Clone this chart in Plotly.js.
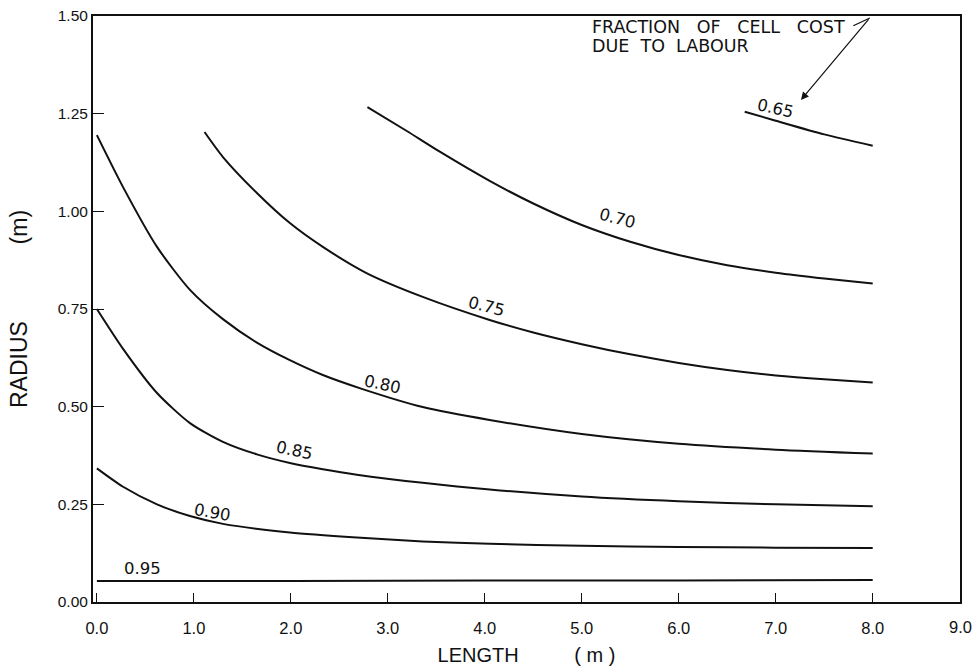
<!DOCTYPE html>
<html>
<head>
<meta charset="utf-8">
<script src="https://cdn.plot.ly/plotly-3.0.1.min.js"></script>
<style>html,body{margin:0;padding:0;background:#fff;}#chart{width:976px;height:666px;}</style>
</head>
<body>
<div id="chart"></div>
<script>
// Contours of fraction of cell cost due to labour: length (m) vs radius (m)
const len95 = [0, 2, 4, 6, 8];
const rad95 = [0.054, 0.054, 0.055, 0.055, 0.056];

const len90 = [0, 0.27, 0.62, 0.96, 1.30, 1.99, 2.68, 3.36, 4.05, 5, 6, 7, 8];
const rad90 = [0.342, 0.295, 0.250, 0.220, 0.200, 0.178, 0.165, 0.155, 0.149, 0.144, 0.141, 0.139, 0.138];

const len85 = [0, 0.27, 0.62, 0.96, 1.30, 1.65, 1.99, 2.33, 2.68, 3.36, 4.05, 5, 6, 7, 8];
const rad85 = [0.75, 0.648, 0.535, 0.458, 0.410, 0.378, 0.356, 0.340, 0.326, 0.305, 0.288, 0.270, 0.258, 0.250, 0.245];

const len80 = [0, 0.27, 0.62, 0.96, 1.30, 1.65, 1.99, 2.33, 2.74, 3.36, 4.05, 5, 6, 7, 8];
const rad80 = [1.195, 1.062, 0.909, 0.799, 0.724, 0.664, 0.619, 0.581, 0.545, 0.499, 0.466, 0.430, 0.405, 0.390, 0.380];

const len75 = [1.11, 1.30, 1.65, 1.99, 2.33, 2.78, 3.36, 4.05, 4.5, 5, 5.5, 6, 6.5, 7, 7.5, 8];
const rad75 = [1.203, 1.139, 1.047, 0.970, 0.909, 0.842, 0.781, 0.722, 0.690, 0.660, 0.634, 0.612, 0.594, 0.580, 0.570, 0.562];

const len70 = [2.79, 3.20, 3.54, 4.05, 4.5, 5, 5.5, 6, 6.5, 7, 7.5, 8];
const rad70 = [1.267, 1.205, 1.152, 1.078, 1.020, 0.965, 0.922, 0.888, 0.862, 0.843, 0.828, 0.815];

const len65 = [6.68, 7, 7.5, 8];
const rad65 = [1.255, 1.232, 1.197, 1.168];

// contour labels
const labelText = ['0.95', '0.90', '0.85', '0.80', '0.75', '0.70', '0.65'];
const labelLen  = [0.47, 1.19, 2.04, 2.95, 4.02, 5.37, 7.0];
const labelRad  = [0.085, 0.230, 0.387, 0.556, 0.757, 0.982, 1.264];
const labelAng  = [0, 10, 12, 12, 14, 15, 13];

const xTicks = [0, 1, 2, 3, 4, 5, 6, 7, 8];
const xTickText = ['0.0', '1.0', '2.0', '3.0', '4.0', '5.0', '6.0', '7.0', '8.0'];
const yTicks = [0, 0.25, 0.5, 0.75, 1.0, 1.25, 1.5];
const yTickText = ['0.00', '0.25', '0.50', '0.75', '1.00', '1.25', '1.50'];

const series = [
  [len95, rad95], [len90, rad90], [len85, rad85], [len80, rad80],
  [len75, rad75], [len70, rad70], [len65, rad65]
];

const traces = series.map(function (s, i) {
  return {
    x: s[0], y: s[1], type: 'scatter', mode: 'lines',
    name: labelText[i], showlegend: false, hoverinfo: 'skip',
    line: {color: '#111', width: 2, shape: 'spline', smoothing: 0.7}
  };
});

const annotations = labelText.map(function (t, i) {
  return {
    x: labelLen[i], y: labelRad[i], xref: 'x', yref: 'y', text: t,
    showarrow: false, textangle: labelAng[i],
    font: {family: 'DejaVu Sans', size: 16.5, color: '#111'}
  };
});

annotations.push({
  x: 5.08, y: 1.472, xref: 'x', yref: 'y', xanchor: 'left', yanchor: 'middle',
  text: 'FRACTION\u00a0\u00a0\u00a0OF\u00a0\u00a0\u00a0CELL\u00a0\u00a0\u00a0COST', showarrow: false,
  font: {family: 'DejaVu Sans', size: 17.5, color: '#111'}
});
annotations.push({
  x: 5.08, y: 1.423, xref: 'x', yref: 'y', xanchor: 'left', yanchor: 'middle',
  text: 'DUE\u00a0\u00a0TO\u00a0\u00a0LABOUR', showarrow: false,
  font: {family: 'DejaVu Sans', size: 17.5, color: '#111'}
});
annotations.push({
  x: 7.26, y: 1.285, xref: 'x', yref: 'y', axref: 'x', ayref: 'y',
  ax: 7.97, ay: 1.495, text: '', showarrow: true,
  arrowhead: 2, arrowsize: 1.3, arrowwidth: 1.2, arrowcolor: '#111'
});
annotations.push({
  x: 1.0, y: 0, xref: 'paper', yref: 'paper', xanchor: 'center', yanchor: 'top',
  yshift: -14, text: '9.0', showarrow: false,
  font: {family: 'Liberation Sans', size: 16.5, color: '#111'}
});

const layout = {
  width: 976, height: 666,
  margin: {l: 93, r: 16, t: 16, b: 64, pad: 0},
  paper_bgcolor: '#fff', plot_bgcolor: '#fff',
  showlegend: false,
  font: {family: 'Liberation Sans', size: 15, color: '#111'},
  xaxis: {
    range: [-0.04, 8.9], tickvals: xTicks, ticktext: xTickText,
    ticks: 'inside', ticklen: 9, tickwidth: 1, tickcolor: '#111',
    showline: true, linecolor: '#111', linewidth: 2, mirror: true,
    showgrid: false, zeroline: false, ticklabelstandoff: 10,
    tickfont: {family: 'Liberation Sans', size: 16.5, color: '#111'},
    title: {text: 'LENGTH\u00a0\u00a0\u00a0\u00a0\u00a0\u00a0\u00a0\u00a0\u00a0\u00a0( m )', standoff: 12,
            font: {family: 'Liberation Sans', size: 20, color: '#111'}}
  },
  yaxis: {
    range: [0, 1.5], tickvals: yTicks, ticktext: yTickText,
    ticks: 'inside', ticklen: 11, tickwidth: 1, tickcolor: '#111',
    showline: true, linecolor: '#111', linewidth: 2, mirror: true,
    showgrid: false, zeroline: false,
    tickfont: {family: 'Liberation Sans', size: 15.5, color: '#111'},
    title: {text: 'RADIUS\u00a0\u00a0\u00a0\u00a0\u00a0\u00a0\u00a0\u00a0\u00a0\u00a0\u00a0\u00a0(m)', standoff: 24,
            font: {family: 'Liberation Sans', size: 23, color: '#111'}}
  },
  shapes: [{
    type: 'line', xref: 'x', yref: 'y', x0: 7.80, y0: 1.475, x1: 7.97, y1: 1.495,
    line: {color: '#111', width: 1.2}
  }],
  annotations: annotations
};

Plotly.newPlot('chart', traces, layout, {displayModeBar: false, staticPlot: true});
</script>
</body>
</html>
